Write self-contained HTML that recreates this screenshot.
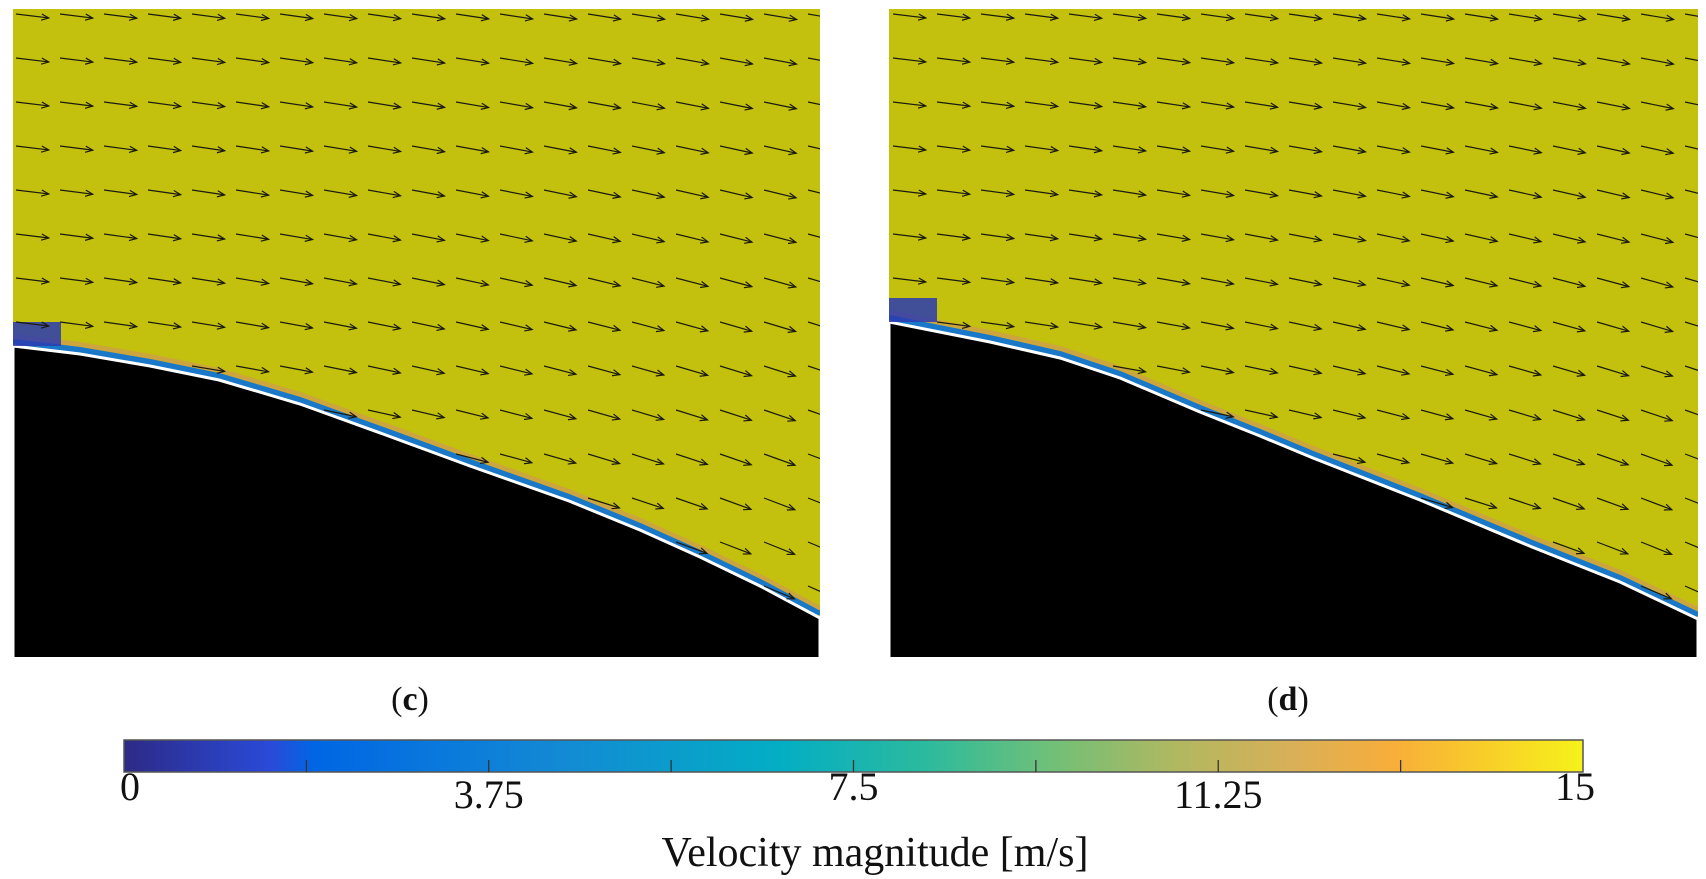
<!DOCTYPE html>
<html><head><meta charset="utf-8"><style>
html,body{margin:0;padding:0;background:#fff;width:1706px;height:879px;overflow:hidden}
svg{display:block}
text{font-family:"Liberation Serif",serif;fill:#111}
</style></head><body>
<svg id="fig" width="1706" height="879" viewBox="0 0 1706 879">
<defs>
<linearGradient id="cmap" x1="0" x2="1" y1="0" y2="0">
<stop offset="0" stop-color="#2d2a85"/>
<stop offset="0.1" stop-color="#2a4ad8"/>
<stop offset="0.13" stop-color="#0066e4"/>
<stop offset="0.3" stop-color="#138ad4"/>
<stop offset="0.45" stop-color="#03aec4"/>
<stop offset="0.55" stop-color="#2cba9e"/>
<stop offset="0.63" stop-color="#6cc07a"/>
<stop offset="0.72" stop-color="#b0b860"/>
<stop offset="0.8" stop-color="#d8b058"/>
<stop offset="0.87" stop-color="#f8ae3a"/>
<stop offset="0.93" stop-color="#f8cc2a"/>
<stop offset="1" stop-color="#f6f21a"/>
</linearGradient>
<clipPath id="clipC"><rect x="13" y="9" width="807" height="648"/></clipPath>
<clipPath id="clipD"><rect x="889" y="9" width="809" height="648"/></clipPath>
</defs>
<g id="panelC" clip-path="url(#clipC)">
<rect x="13" y="9" width="807" height="648" fill="#c3c10e"/>
</g>
<g id="panelD" clip-path="url(#clipD)">
<rect x="889" y="9" width="809" height="648" fill="#c3c10e"/>
</g>
<text x="410" y="710" font-size="34" text-anchor="middle">(<tspan font-weight="bold">c</tspan>)</text>
<text x="1288" y="710" font-size="34" text-anchor="middle">(<tspan font-weight="bold">d</tspan>)</text>
<g id="cbar">
<rect x="124" y="740" width="1459" height="32" fill="url(#cmap)" stroke="#555" stroke-width="1.5"/>
</g>
<text x="875" y="866" font-size="42" text-anchor="middle">Velocity magnitude [m/s]</text>
</svg>
<script>
const NS="http://www.w3.org/2000/svg";
const tickValues=[0,3.75,7.5,11.25,15];
const minorTicks=[1.875,3.75,5.625,7.5,9.375,11.25,13.125];
const cbMin=0, cbMax=15;
const wallC=[[13,346],[80,354],[150,366],[219,380],[300,404],[383,434],[470,466],[569,501],[640,530],[700,557],[760,586],[820,618]];
const wallD=[[889,322],[990,342],[1060,358],[1120,378],[1200,412],[1260,436],[1313,458],[1420,500],[1532,547],[1620,582],[1698,619]];
const arrowRows=[14,58,102,146,190,234,278,322,366,410,454,498,542,586];
const arrowColsC=[16,60,104,148,192,236,280,324,368,412,456,500,544,588,632,676,720,764,808];
const arrowColsD=[893,937,981,1025,1069,1113,1157,1201,1245,1289,1333,1377,1421,1465,1509,1553,1597,1641,1685];
const svg=document.getElementById('fig');
function cbX(v){return 124+(v-cbMin)/(cbMax-cbMin)*1459;}
function mk(t,a){const e=document.createElementNS(NS,t);for(const k in a)e.setAttribute(k,a[k]);return e;}
const cbar=document.getElementById('cbar');
minorTicks.forEach(v=>{
  const l=mk('line',{x1:cbX(v),x2:cbX(v),y1:760,y2:772,stroke:'#333','stroke-width':1.3});
  
  
  cbar.appendChild(l);
});
tickValues.forEach((v,i)=>{
  const t=mk('text',{x:cbX(v)+(i==0?6:(i==4?-8:0)),y:i%2?808:800,'font-size':40,'text-anchor':'middle'});
  t.textContent=String(v);
  
  
  svg.appendChild(t);
});
function wallY(w,x){for(let i=0;i<w.length-1;i++){if(x>=w[i][0]&&x<=w[i+1][0]){const f=(x-w[i][0])/(w[i+1][0]-w[i][0]);return w[i][1]+f*(w[i+1][1]-w[i][1]);}}return w[w.length-1][1];}
function drawPanel(g,w,cols,x0,x1){
  const pts=w.map(p=>p.join(',')).join(' ');
  const bl=mk('polyline',{points:w.map(p=>p[0]+','+(p[1]-9)).join(' '),fill:'none',stroke:'#d09a50','stroke-width':6,opacity:0.7});
  
  
  g.appendChild(bl);
  const bl2=mk('polyline',{points:w.map(p=>p[0]+','+(p[1]-4)).join(' '),fill:'none',stroke:'#1a78c8','stroke-width':6});
  
  
  g.appendChild(bl2);
  const solid=mk('polygon',{points:pts+' '+x1+',660 '+x0+',660',fill:'#000',stroke:'#fff','stroke-width':3});
  
  
  g.appendChild(solid);
  const sep=mk('rect',{x:x0,y:w[0][1]-24,width:48,height:24,fill:'#2a3ab0',opacity:0.85});
  
  
  g.appendChild(sep);
  arrowRows.forEach((y,ri)=>{cols.forEach((x,ci)=>{
    const wy=wallY(w,x+34);
    if(y>wy-14)return;
    const rel=(x-x0)/(x1-x0);
    const ang=0.12+0.25*rel*(ri/13)+0.05*rel;
    const len=33;
    const ex=x+len*Math.cos(ang), ey=y+len*Math.sin(ang);
    const a=mk('g',{});
    
    
    a.appendChild(mk('line',{x1:x,y1:y,x2:ex,y2:ey,stroke:'#1a1a10','stroke-width':1.2}));
    const hx=ex-8*Math.cos(ang-0.4), hy=ey-8*Math.sin(ang-0.4);
    const hx2=ex-8*Math.cos(ang+0.4), hy2=ey-8*Math.sin(ang+0.4);
    a.appendChild(mk('polyline',{points:hx+','+hy+' '+ex+','+ey+' '+hx2+','+hy2,fill:'none',stroke:'#1a1a10','stroke-width':1.2}));
    g.appendChild(a);
  });});
}
drawPanel(document.getElementById('panelC'),wallC,arrowColsC,13,820);
drawPanel(document.getElementById('panelD'),wallD,arrowColsD,889,1698);
</script>
</body></html>
